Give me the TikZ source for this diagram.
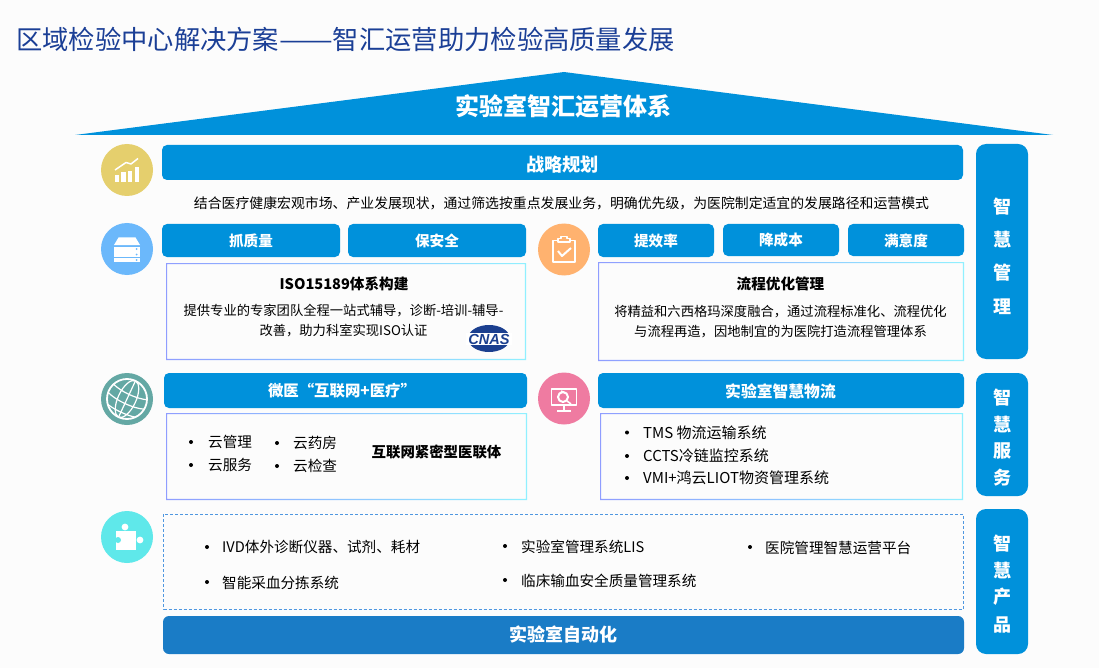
\documentclass[tikz,border=0pt]{standalone}
\usepackage{fontspec}
\setmainfont{Noto Sans CJK SC}
\newfontfamily\logofont{Liberation Sans}
\usetikzlibrary{shapes.geometric}

\definecolor{pagebg}{HTML}{FCFCFC}
\definecolor{titleblue}{HTML}{1B3F96}
\definecolor{barblue}{HTML}{0091DB}
\definecolor{autoblue}{HTML}{1A7CC6}
\definecolor{panelleft}{HTML}{8F9DFF}
\definecolor{panelright}{HTML}{90F0FF}
\definecolor{dashblue}{HTML}{4F97E0}
\definecolor{cnasblue}{HTML}{1B3F8F}
\definecolor{charticon}{HTML}{E5CF6D}
\definecolor{servericon}{HTML}{6BB8FB}
\definecolor{clipicon}{HTML}{FFB26F}
\definecolor{screenicon}{HTML}{EF7BA1}
\definecolor{globeicon}{HTML}{64A8A4}
\definecolor{puzzleicon}{HTML}{5FE8EA}

\tikzset{
  barbox/.style={fill=barblue, rounded corners=5pt},
  sidebox/.style={fill=barblue, rounded corners=10pt},
  bartext/.style={text=white, font=\fontsize{14.6}{18}\selectfont\bfseries},
  sidetext/.style={text=white, font=\fontsize{18}{20}\selectfont\bfseries},
  bodytext/.style={text=black, align=center, font=\fontsize{13.3}{20}\selectfont},
  headtext/.style={text=black, font=\fontsize{14.6}{18}\selectfont\bfseries},
  itemtext/.style={text=black, anchor=west, inner sep=0pt, font=\fontsize{14.6}{18}\selectfont},
  itemdot/.style={circle, fill=black, inner sep=0pt, minimum size=4pt},
  iconline/.style={draw=white, line width=1.5pt, line join=round}
}

% gradient frame of a text panel
\newcommand{\gradpanel}[4]{
  \shade[even odd rule, left color=panelleft, right color=panelright]
    (#1,#2) rectangle (#3,#4) (#1+1.2,#2+1.2) rectangle (#3-1.2,#4-1.2);
}

\begin{document}
\begin{tikzpicture}[x=1pt, y=-1pt]
% Page
\fill[pagebg] (0,0) rectangle (1099,668);
\node[anchor=west, inner sep=0pt, text=titleblue, font=\fontsize{26.3}{30}\selectfont] (pagetitle) at (16,39) {区域检验中心解决方案\scalebox{1.22}[1]{——}智汇运营助力检验高质量发展};

% Roof
\fill[barblue] (75,135) -- (564,72) -- (1053,135) -- cycle;
\node[text=white, font=\fontsize{24}{26}\selectfont\bfseries] (rooftext) at (563.5,106) {实验室智汇运营体系};

% Right column
\fill[sidebox] (976,144) rectangle (1028,359);
\node[sidetext] (mgmt1) at (1002,207) {智};
\node[sidetext] (mgmt2) at (1002,240) {慧};
\node[sidetext] (mgmt3) at (1002,273) {管};
\node[sidetext] (mgmt4) at (1002,307) {理};
\fill[sidebox] (976,373) rectangle (1028,496);
\node[sidetext] (serv1) at (1002,397.5) {智};
\node[sidetext] (serv2) at (1002,424.5) {慧};
\node[sidetext] (serv3) at (1002,450.5) {服};
\node[sidetext] (serv4) at (1002,477.5) {务};
\fill[sidebox] (976,509) rectangle (1028,654);
\node[sidetext] (prod1) at (1002,544) {智};
\node[sidetext] (prod2) at (1002,571) {慧};
\node[sidetext] (prod3) at (1002,597) {产};
\node[sidetext] (prod4) at (1002,625) {品};

% Strategy row
\fill[barbox] (162,145) rectangle (963,180);
\node[bartext, font=\fontsize{18.2}{20}\selectfont\bfseries] (strategy) at (562.5,164.5) {战略规划};
\node[text=black, font=\fontsize{13.87}{18}\selectfont] (strategytext) at (561.5,203.5) {结合医疗健康宏观市场、产业发展现状，通过筛选按重点发展业务，明确优先级，为医院制定适宜的发展路径和运营模式};

% Quality block
\fill[barbox] (162,224) rectangle (340,257);
\node[bartext] (quality) at (251,240.5) {抓质量};
\fill[barbox] (348,224) rectangle (526,257);
\node[bartext] (safety) at (437,240.5) {保安全};
\gradpanel{166}{263}{526}{360}
\node[headtext] (isohead) at (344,283.5) {ISO15189体系构建};
\node[bodytext] (isotext) at (343.5,320.5) {提供专业的专家团队全程一站式辅导，诊断-培训-辅导-\\改善，助力科室实现ISO认证};

% Process block
\fill[barbox] (598,224) rectangle (714,257);
\node[bartext] (speed) at (656,240.5) {提效率};
\fill[barbox] (723,224) rectangle (839,256);
\node[bartext] (cost) at (781,239.5) {降成本};
\fill[barbox] (848,224) rectangle (964,256);
\node[bartext] (satisfy) at (906,240.5) {满意度};
\gradpanel{598}{262}{964}{361}
\node[headtext] (flowhead) at (780.5,284) {流程优化管理};
\node[bodytext] (flowtext) at (780.5,321.5) {将精益和六西格玛深度融合，通过流程标准化、流程优化\\与流程再造，因地制宜的为医院打造流程管理体系};

% Internet block
\fill[barbox] (164,373) rectangle (527,408);
\node[bartext, font=\fontsize{15.4}{18}\selectfont\bfseries] (internet) at (342,391) {微医“互联网+医疗”};
\gradpanel{166}{413}{527}{500}
\node[itemdot] (netdot1) at (191,442) {};
\node[itemtext] (net1) at (208,442) {云管理};
\node[itemdot] (netdot2) at (191,465) {};
\node[itemtext] (net2) at (208,465) {云服务};
\node[itemdot] (netdot3) at (277,443) {};
\node[itemtext] (net3) at (293,443) {云药房};
\node[itemdot] (netdot4) at (277,466) {};
\node[itemtext] (net4) at (293,466) {云检查};
\node[headtext, font=\fontsize{14.4}{18}\selectfont\bfseries] (nethead) at (436.5,452.5) {互联网紧密型医联体};

% Logistics block
\fill[barbox] (598,373) rectangle (964,408);
\node[bartext, font=\fontsize{15.8}{18}\selectfont\bfseries] (logistics) at (780.5,391) {实验室智慧物流};
\gradpanel{600}{413}{963}{500}
\node[itemdot] (logdot1) at (627,432.5) {};
\node[itemtext, font=\fontsize{15}{18}\selectfont] (log1) at (643,432.5) {TMS 物流运输系统};
\node[itemdot] (logdot2) at (627,456) {};
\node[itemtext, font=\fontsize{15}{18}\selectfont] (log2) at (643,456) {CCTS冷链监控系统};
\node[itemdot] (logdot3) at (627,478) {};
\node[itemtext, font=\fontsize{15}{18}\selectfont] (log3) at (643,478) {VMI+鸿云LIOT物资管理系统};

% Product block
\draw[dashblue, dash pattern=on 3pt off 2pt, line width=1pt] (163.5,514) rectangle (963,609);
\node[itemdot] (proddot1) at (207,547) {};
\node[itemtext] (item1) at (222,547) {IVD体外诊断仪器、试剂、耗材};
\node[itemdot] (proddot2) at (505,546) {};
\node[itemtext] (item2) at (521,547) {实验室管理系统LIS};
\node[itemdot] (proddot3) at (750,547) {};
\node[itemtext] (item3) at (765,548) {医院管理智慧运营平台};
\node[itemdot] (proddot4) at (207,582) {};
\node[itemtext] (item4) at (222,583) {智能采血分拣系统};
\node[itemdot] (proddot5) at (505,580) {};
\node[itemtext] (item5) at (521,581) {临床输血安全质量管理系统};
\fill[autoblue, rounded corners=6pt] (163,616) rectangle (964,654);
\node[bartext, font=\fontsize{18}{20}\selectfont\bfseries] (auto) at (563.5,635) {实验室自动化};

% CNAS logo
\fill[cnasblue] (489,338.5) ellipse (21 and 13.5);
\fill[white] (466,333) rectangle (512,344.5);
\node[text=cnasblue, inner sep=0pt, font=\fontsize{14.6}{15}\logofont\bfseries\itshape] (cnas) at (489,339) {CNAS};

% Chart icon
\fill[charticon] (127,170) circle (26);
\fill[white] (114.5,175) rectangle +(4.5,7);
\fill[white] (121,172.5) rectangle +(4.5,9.5);
\fill[white] (127.5,171) rectangle +(4.5,11);
\fill[white] (134.5,167.5) rectangle +(4.5,14.5);
\draw[iconline] (115,170) -- (126,162.5) -- (131,164) -- (138,158.5);

% Server icon
\fill[servericon] (127,249) circle (26);
\fill[white] (114,245) -- (118.5,237.5) -- (135.5,237.5) -- (140,245) -- cycle;
\fill[white] (114,246.7) rectangle (140,251.5);
\fill[white] (114,252.3) rectangle (140,256.8);
\fill[white] (114,257.6) rectangle (140,262.3);
\fill[servericon] (136.5,249) circle (1);
\fill[servericon] (136.5,254.5) circle (1);
\fill[servericon] (136.5,260) circle (1);

% Clipboard icon
\fill[clipicon] (564,249.5) circle (26);
\draw[iconline, line width=1.7pt] (558,240.5) -- (553,240.5) -- (553,262) -- (575,262) -- (575,240.5) -- (570,240.5);
\draw[iconline, line width=1.7pt] (558,242) -- (558,238.5) -- (561,238.5) -- (561,236.5) -- (567,236.5) -- (567,238.5) -- (570,238.5) -- (570,242) -- cycle;
\draw[iconline, line width=2pt] (558,251) -- (562,256) -- (571,248);

% Monitor icon
\fill[screenicon] (564,398.5) circle (26);
\draw[iconline, line width=1.8pt] (551.5,389) rectangle (576.5,405);
\draw[iconline, line width=2.4pt] (564,405) -- (564,410);
\draw[iconline, line width=1.8pt] (557,411) -- (571,411);
\draw[iconline, line width=2pt] (563,397) circle (5);
\draw[iconline, line width=1.6pt] (567,401) -- (571,404);
\draw[iconline, line width=1.6pt] (561,391) -- (565,393);

% Globe icon
\fill[globeicon] (127,399) circle (26);
\draw[iconline, line width=1.8pt] (127,399) circle (20);
\draw[iconline, line width=1.2pt, rotate around={-25:(127,399)}] (127,399) ellipse (9 and 20);
\draw[iconline, line width=1.2pt, rotate around={-25:(127,399)}] (127,379) -- (127,419);
\draw[iconline, line width=1.2pt, rotate around={-25:(127,399)}] (108,391) .. controls (118,395) and (136,395) .. (146,391);
\draw[iconline, line width=1.2pt, rotate around={-25:(127,399)}] (107,401) .. controls (118,405) and (136,405) .. (147,401);
\draw[iconline, line width=1.2pt, rotate around={-25:(127,399)}] (112,412) .. controls (120,414) and (134,414) .. (142,412);

% Puzzle icon
\fill[puzzleicon] (127,537) circle (26);
\fill[white] (116,531) rectangle (136,550);
\fill[white] (125,527) circle (3.4);
\fill[white] (140,540) circle (3.4);
\fill[puzzleicon] (118,540) circle (3);
\end{tikzpicture}
\end{document}
